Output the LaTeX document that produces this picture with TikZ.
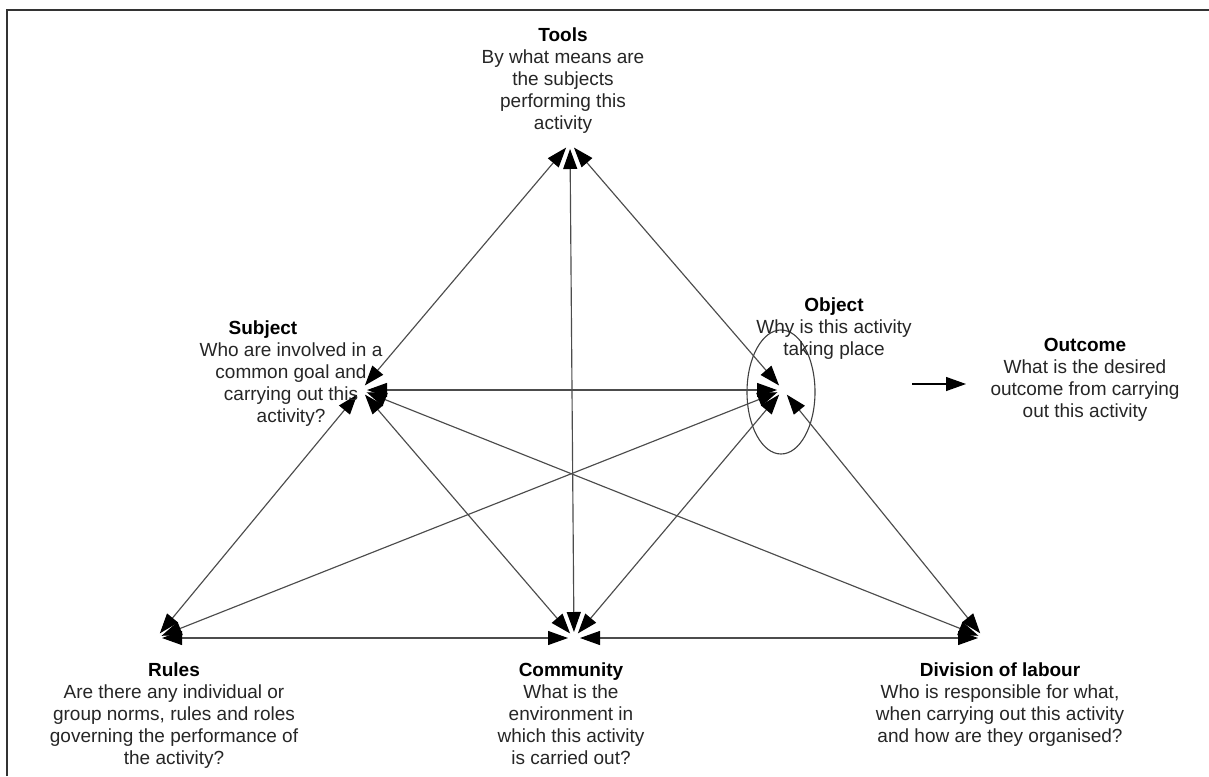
\documentclass[tikz,border=0pt]{standalone}
\usepackage{fontspec}
\setmainfont{Liberation Sans}
\usetikzlibrary{arrows.meta,shapes.geometric}
\begin{document}
\begin{tikzpicture}[x=1pt,y=-1pt,
  tip/.tip={Triangle[length=20pt,width=14pt,color=black]},
  link/.style={draw=black!70, line width=1.15pt, tip-tip, shorten <=6pt, shorten >=6pt},
  oneway/.style={draw=black, line width=1.3pt, -tip},
  blurb/.style={align=center, inner sep=0pt, anchor=north, font=\fontsize{19}{22}\selectfont, text=black!85},
  frame/.style={draw=black!80, line width=1.6pt},
  ring/.style={ellipse, draw=black!75, line width=1.1pt, minimum width=68pt, minimum height=124pt, inner sep=0pt}
]
\useasboundingbox (0,0) rectangle (1209,776);
\fill[white] (0,0) rectangle (1209,776);
% frame (top and left edges)
\coordinate (f1) at (7,776);
\coordinate (f2) at (7,10);
\coordinate (f3) at (1209,10);
\draw[frame] (f1) -- (f2) -- (f3);

% vertices
\coordinate (T) at (570,143);
\coordinate (S) at (361,390);
\coordinate (O) at (783,390);
\coordinate (R) at (156,638);
\coordinate (C) at (574,638);
\coordinate (D) at (984,638);

% object ellipse
\node[ring] (ring) at (781,392) {};

% links
\draw[link] (T) -- (S);
\draw[link] (T) -- (C);
\draw[link] (T) -- (O);
\draw[link] (S) -- (O);
\draw[link] (S) -- (R);
\draw[link] (S) -- (C);
\draw[link] (S) -- (D);
\draw[link] (O) -- (R);
\draw[link] (O) -- (C);
\draw[link] (O) -- (D);
\draw[link] (R) -- (C);
\draw[link] (C) -- (D);

% outcome arrow
\coordinate (oa) at (912,384);
\coordinate (ob) at (966,384);
\draw[oneway] (oa) -- (ob);

% texts
\node[blurb] (tools) at (563,28) {\textbf{\color{black}Tools}\\By what means are\\the subjects\\performing this\\activity};
\node[blurb] (subject) at (291,321) {\textbf{\color{black}Subject}\rule{56pt}{0pt}\\Who are involved in a\\common goal and\\carrying out this\\activity?};
\node[blurb] (object) at (834,298) {\textbf{\color{black}Object}\\Why is this activity\\taking place};
\node[blurb] (outcome) at (1085,338) {\textbf{\color{black}Outcome}\\What is the desired\\outcome from carrying\\out this activity};
\node[blurb] (rules) at (174,663) {\textbf{\color{black}Rules}\\Are there any individual or\\group norms, rules and roles\\governing the performance of\\the activity?};
\node[blurb] (community) at (571,663) {\textbf{\color{black}Community}\\What is the\\environment in\\which this activity\\is carried out?};
\node[blurb] (division) at (1000,663) {\textbf{\color{black}Division of labour}\\Who is responsible for what,\\when carrying out this activity\\and how are they organised?};
\end{tikzpicture}
\end{document}
